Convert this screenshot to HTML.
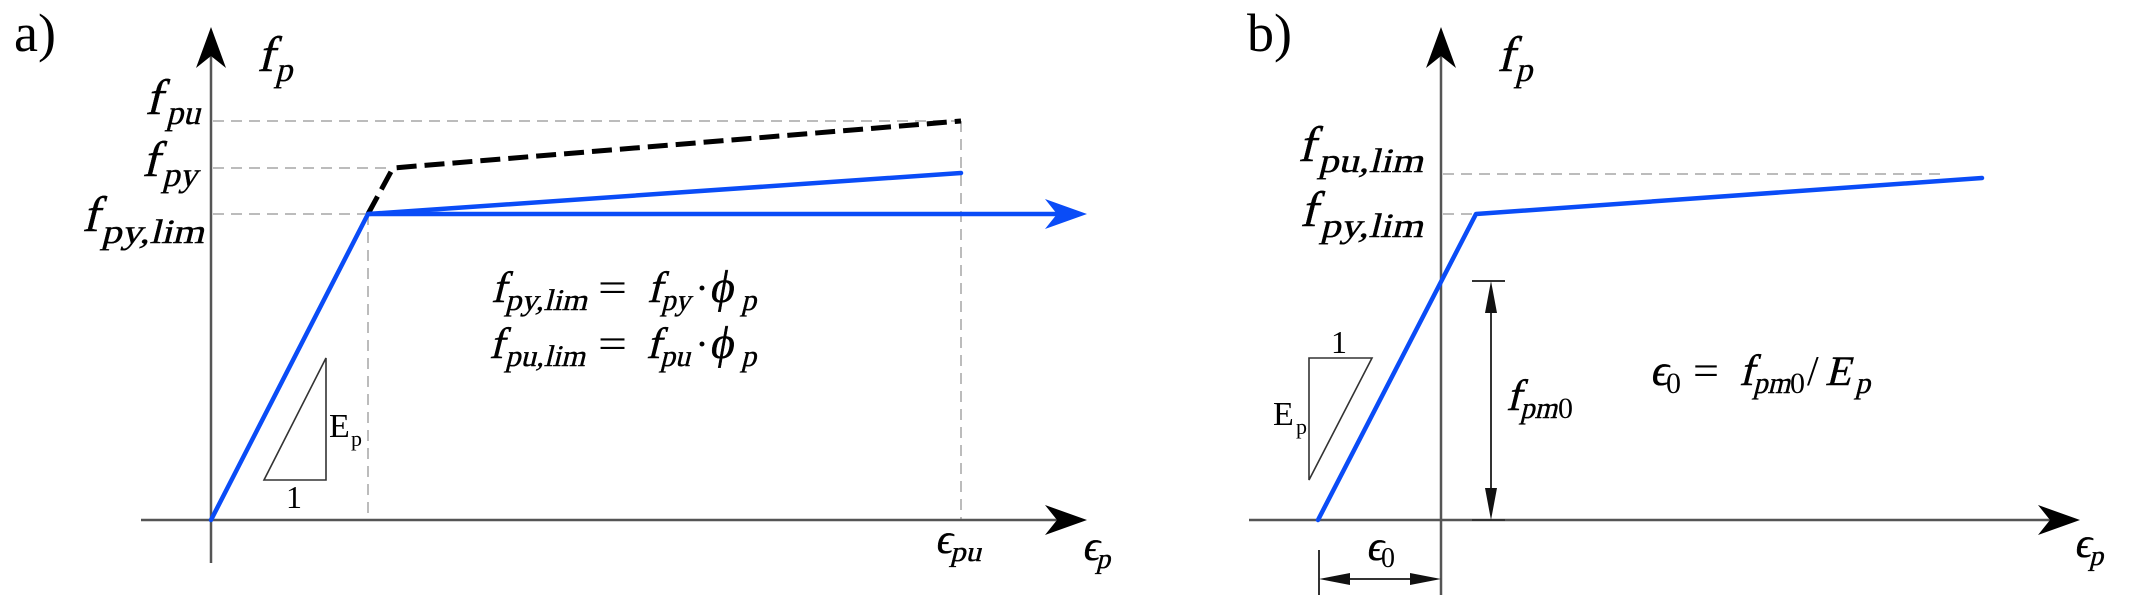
<!DOCTYPE html>
<html><head><meta charset="utf-8"><style>
html,body{margin:0;padding:0;background:#fff;}
svg{display:block;}
text{font-family:"Liberation Serif","DejaVu Serif",serif;fill:#000;font-style:normal;}
.i{stroke:#000;stroke-width:0.4;}
</style></head><body>
<svg width="2141" height="605" viewBox="0 0 2141 605" xmlns="http://www.w3.org/2000/svg">
<rect width="2141" height="605" fill="#fff"/>

<!-- ================= PANEL A ================= -->
<g stroke="#bcbcbc" stroke-width="2" stroke-dasharray="11 7" fill="none">
  <line x1="213" y1="121" x2="961" y2="121"/>
  <line x1="213" y1="168" x2="393" y2="168"/>
  <line x1="213" y1="214" x2="368" y2="214"/>
  <line x1="368" y1="214" x2="368" y2="520"/>
  <line x1="961" y1="121" x2="961" y2="520"/>
</g>
<g stroke="#555" stroke-width="2.5" fill="none">
  <line x1="211" y1="56" x2="211" y2="563"/>
  <line x1="141" y1="520" x2="1058" y2="520"/>
</g>
<path d="M211 27 L196 68 L211 56 L226 68 Z" fill="#000"/>
<path d="M1087 520 L1045 505 L1057 520 L1045 535 Z" fill="#000"/>

<polyline points="368,214 393,168 961,121" fill="none" stroke="#000" stroke-width="5" stroke-dasharray="20 8"/>
<g stroke="#0a4cf7" stroke-width="4.5" fill="none" stroke-linecap="round" stroke-linejoin="round">
  <polyline points="211,520 368,214 961,173"/>
  <line x1="368" y1="214" x2="1060" y2="214"/>
</g>
<path d="M1087 214 L1045 199 L1057 214 L1045 229 Z" fill="#0a4cf7"/>

<polygon points="264,480 326,480 326,358" fill="none" stroke="#333" stroke-width="1.6"/>
<text x="329" y="437" font-size="34">E</text>
<text x="351" y="446" font-size="22">p</text>
<text x="286" y="508" font-size="32">1</text>

<text x="14" y="51" font-size="54">a)</text>
<text class="i" transform="translate(257 71) skewX(-14)" font-size="50">f</text>
<text class="i" transform="translate(275 81) skewX(-14)" font-size="34">p</text>

<text class="i" transform="translate(145 114) skewX(-14)" font-size="50">f</text>
<text class="i" transform="translate(166 124) skewX(-14)" font-size="34" textLength="34" lengthAdjust="spacingAndGlyphs">pu</text>

<text class="i" transform="translate(142 176) skewX(-14)" font-size="50">f</text>
<text class="i" transform="translate(162 186) skewX(-14)" font-size="34" textLength="35" lengthAdjust="spacingAndGlyphs">py</text>

<text class="i" transform="translate(82 231) skewX(-14)" font-size="50">f</text>
<text class="i" transform="translate(101 243) skewX(-14)" font-size="34" textLength="103" lengthAdjust="spacingAndGlyphs">py,lim</text>

<!-- formulas a -->
<text class="i" transform="translate(491 302) skewX(-14)" font-size="44">f</text>
<text class="i" transform="translate(505 310) skewX(-14)" font-size="30" textLength="82" lengthAdjust="spacingAndGlyphs">py,lim</text>
<text x="598" y="302" font-size="42" textLength="29" lengthAdjust="spacingAndGlyphs">=</text>
<text class="i" transform="translate(647 302) skewX(-14)" font-size="44">f</text>
<text class="i" transform="translate(661 310) skewX(-14)" font-size="30" textLength="29" lengthAdjust="spacingAndGlyphs">py</text>
<text x="695" y="302" font-size="42">·</text>
<text class="i" transform="translate(709 302) skewX(-10)" font-size="46">ϕ</text>
<text class="i" transform="translate(741 310) skewX(-14)" font-size="30">p</text>

<text class="i" transform="translate(489 358) skewX(-14)" font-size="44">f</text>
<text class="i" transform="translate(505 366) skewX(-14)" font-size="30" textLength="80" lengthAdjust="spacingAndGlyphs">pu,lim</text>
<text x="598" y="358" font-size="42" textLength="29" lengthAdjust="spacingAndGlyphs">=</text>
<text class="i" transform="translate(646 358) skewX(-14)" font-size="44">f</text>
<text class="i" transform="translate(660 366) skewX(-14)" font-size="30" textLength="30" lengthAdjust="spacingAndGlyphs">pu</text>
<text x="695" y="358" font-size="42">·</text>
<text class="i" transform="translate(709 358) skewX(-10)" font-size="46">ϕ</text>
<text class="i" transform="translate(741 366) skewX(-14)" font-size="30">p</text>

<text class="i" transform="translate(935 553) skewX(-10)" font-size="42">ϵ</text>
<text class="i" transform="translate(950 561) skewX(-14)" font-size="28" textLength="31" lengthAdjust="spacingAndGlyphs">pu</text>
<text class="i" transform="translate(1082 560) skewX(-10)" font-size="42">ϵ</text>
<text class="i" transform="translate(1096 568) skewX(-14)" font-size="28">p</text>

<!-- ================= PANEL B ================= -->
<g stroke="#bcbcbc" stroke-width="2" stroke-dasharray="11 7" fill="none">
  <line x1="1443" y1="174" x2="1947" y2="174"/>
  <line x1="1443" y1="214" x2="1476" y2="214"/>
</g>
<g stroke="#555" stroke-width="2.5" fill="none">
  <line x1="1441" y1="56" x2="1441" y2="595"/>
  <line x1="1249" y1="520" x2="2050" y2="520"/>
</g>
<path d="M1441 27 L1426 68 L1441 56 L1456 68 Z" fill="#000"/>
<path d="M2080 520 L2038 505 L2050 520 L2038 535 Z" fill="#000"/>

<polyline points="1318,520 1476,214 1982,178" fill="none" stroke="#0a4cf7" stroke-width="4.5" stroke-linecap="round" stroke-linejoin="round"/>

<polygon points="1309,358 1372,358 1309,480" fill="none" stroke="#333" stroke-width="1.6"/>
<text x="1273" y="425" font-size="34">E</text>
<text x="1296" y="434" font-size="22">p</text>
<text x="1331" y="353" font-size="32">1</text>

<g stroke="#333" stroke-width="2" fill="none">
  <line x1="1472" y1="281" x2="1505" y2="281"/>
  <line x1="1472" y1="520" x2="1505" y2="520"/>
  <line x1="1491" y1="300" x2="1491" y2="500"/>
</g>
<polygon points="1491,281 1485,313 1497,313" fill="#111"/>
<polygon points="1491,520 1485,488 1497,488" fill="#111"/>

<g stroke="#333" stroke-width="2" fill="none">
  <line x1="1319" y1="550" x2="1319" y2="595"/>
  <line x1="1335" y1="579" x2="1425" y2="579"/>
</g>
<polygon points="1319,579 1350,573 1350,585" fill="#111"/>
<polygon points="1441,579 1410,573 1410,585" fill="#111"/>

<text x="1247" y="51" font-size="54">b)</text>
<text class="i" transform="translate(1497 71) skewX(-14)" font-size="50">f</text>
<text class="i" transform="translate(1515 81) skewX(-14)" font-size="34">p</text>

<text class="i" transform="translate(1298 161) skewX(-14)" font-size="50">f</text>
<text class="i" transform="translate(1318 172) skewX(-14)" font-size="34" textLength="105" lengthAdjust="spacingAndGlyphs">pu,lim</text>
<text class="i" transform="translate(1300 226) skewX(-14)" font-size="50">f</text>
<text class="i" transform="translate(1320 237) skewX(-14)" font-size="34" textLength="103" lengthAdjust="spacingAndGlyphs">py,lim</text>

<text class="i" transform="translate(1506 410) skewX(-14)" font-size="44">f</text>
<text class="i" transform="translate(1520 418) skewX(-14)" font-size="30" textLength="37" lengthAdjust="spacingAndGlyphs">pm</text>
<text x="1558" y="418" font-size="30">0</text>

<text class="i" transform="translate(1366 560) skewX(-10)" font-size="42">ϵ</text>
<text x="1381" y="567" font-size="28">0</text>

<text class="i" transform="translate(1650 385) skewX(-10)" font-size="44">ϵ</text>
<text x="1666" y="393" font-size="30">0</text>
<text x="1693" y="385" font-size="42" textLength="26" lengthAdjust="spacingAndGlyphs">=</text>
<text class="i" transform="translate(1739 385) skewX(-14)" font-size="44">f</text>
<text class="i" transform="translate(1753 393) skewX(-14)" font-size="30" textLength="37" lengthAdjust="spacingAndGlyphs">pm</text>
<text x="1790" y="393" font-size="30">0</text>
<text x="1807" y="385" font-size="42">/</text>
<text class="i" transform="translate(1825 385) skewX(-14)" font-size="42">E</text>
<text class="i" transform="translate(1855 393) skewX(-14)" font-size="30">p</text>

<text class="i" transform="translate(2074 557) skewX(-10)" font-size="42">ϵ</text>
<text class="i" transform="translate(2089 565) skewX(-14)" font-size="28">p</text>
</svg>
</body></html>
